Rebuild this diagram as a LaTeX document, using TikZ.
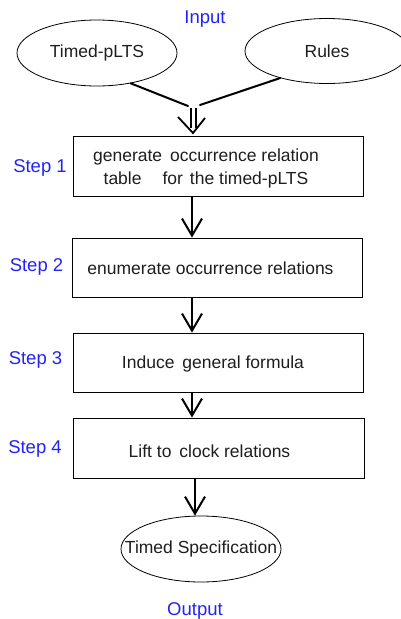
\documentclass[tikz,border=0pt]{standalone}
\usepackage{fontspec}
\setmainfont{Liberation Sans}
\usetikzlibrary{arrows.meta,shapes.geometric,calc}
\definecolor{stepblue}{RGB}{35,35,245}
\definecolor{ink}{RGB}{30,30,30}
\tikzset{
  stepbox/.style={draw=black, line width=0.9pt, rectangle, minimum width=290pt, minimum height=59pt, inner sep=0pt},
  oval/.style={draw=black, line width=0.8pt, ellipse, minimum width=160pt, minimum height=66pt, inner sep=0pt, text=ink, font=\fontsize{17.5}{20}\selectfont},
  txt/.style={text=ink, font=\fontsize{17.5}{23}\selectfont, align=center, inner sep=0pt},
  steplabel/.style={text=stepblue, font=\fontsize{18.5}{21}\selectfont, inner sep=0pt},
  flow/.style={line width=2pt, -{Straight Barb[length=17pt,width=20pt]}},
  feed/.style={line width=2pt, line cap=round}
}
\begin{document}
\begin{tikzpicture}[x=1pt, y=-1pt]
\useasboundingbox (0,0) rectangle (400,619);
\fill[white] (0,0) rectangle (400,619);

% inputs
\node[steplabel] (inlab) at (205,19) {Input};
\node[oval] (tp) at (97,53) {Timed-pLTS};
\node[oval, minimum width=164pt, minimum height=65pt] (ru) at (327,51) {Rules};

% merge of the two inputs into the double arrow
\coordinate (join) at (193.5,106);
\draw[feed] (tp.-42) -- ($(join)+(-5.5,0)$);
\draw[feed] (ru.-150) -- ($(join)+(6.5,-1)$);
\draw[line width=1.8pt] ($(join)+(-2.5,2)$) -- ($(join)+(-2.5,22)$);
\draw[line width=1.8pt] ($(join)+(2.5,2)$) -- ($(join)+(2.5,22)$);
\draw[line width=1.8pt, line join=miter] ($(join)+(-15.5,11)$) -- ($(join)+(-0.5,27)$) -- ($(join)+(11.5,12)$);

% steps
\node[stepbox, minimum height=60pt] (b1) at (218,166) {};
\node[txt] (t1) at (206,168) {generate\hspace{0.45em}occurrence relation\\table\hspace{1.2em}for\hspace{0.4em}the timed-pLTS};
\node[steplabel] (s1) at (40,168) {Step 1};

\node[stepbox] (b2) at (217,267.5) {};
\node[txt] (t2) at (210.5,268) {enumerate occurrence relations};
\node[steplabel] (s2) at (36.5,267) {Step 2};

\node[stepbox] (b3) at (218,362.5) {};
\node[txt] (t3) at (213,364) {Induce\hspace{0.45em}general formula};
\node[steplabel] (s3) at (35.5,360) {Step 3};

\node[stepbox, minimum width=291pt, minimum height=60pt] (b4) at (218.5,448) {};
\node[txt] (t4) at (209.5,451) {Lift to\hspace{0.45em}clock relations};
\node[steplabel] (s4) at (35,449) {Step 4};

% output: the label nearly fills the oval, so it is set in a zero-width box
\node[oval] (ts) at (201,549) {\makebox[0pt]{Timed Specification}};
\node[steplabel] (outlab) at (195,611) {Output};

% connectors
\draw[flow] ([xshift=-26pt]b1.south) -- ([xshift=-25pt]b2.north);
\draw[flow] ([xshift=-25pt]b2.south) -- ([xshift=-26pt]b3.north);
\draw[flow] ([xshift=-26pt]b3.south) -- ([xshift=-26.5pt]b4.north);
\draw[flow] ([xshift=-23.5pt]b4.south) -- ([xshift=-6pt]ts.north);
\end{tikzpicture}
\end{document}
